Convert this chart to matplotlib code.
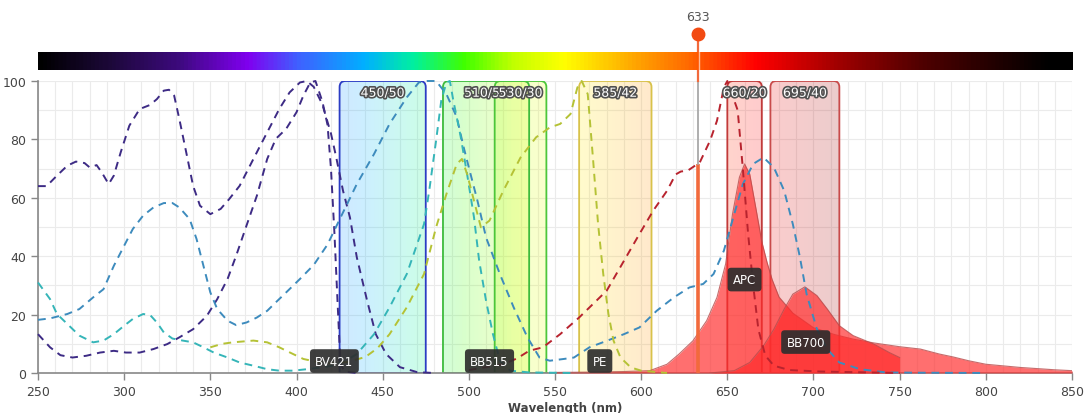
import numpy as np
import matplotlib.pyplot as plt
from matplotlib.colors import LinearSegmentedColormap, Normalize
from matplotlib.patches import FancyBboxPatch
import matplotlib.patheffects as pe

# ========================================= #
# spectra               #
# ========================================= #

# excitation curves (dashed)
bv_a_wl = [250, 255, 261, 267, 272, 277, 280, 284, 287, 291,
           294, 298, 303, 309, 315, 319, 323, 326, 329, 332,
           336, 340, 344, 350, 356, 361, 367, 373, 379, 385,
           390, 396, 402, 406, 410, 415, 420, 423, 427, 431,
           435, 441, 446, 452, 460, 470, 480]
bv_a = [64, 64, 67.6, 71, 72.4, 71.9, 70.4, 71.2, 68.7, 64.7,
        67.6, 75.6, 84.7, 90.4, 91.8, 93.8, 96.7, 97, 95, 87,
        75.6, 64.1, 57.3, 54.4, 56.2, 59.6, 64.1, 71, 77.9, 84.7,
        90.4, 96.1, 99.5, 100, 98, 92, 82, 74, 62.4, 53.3,
        39.6, 24.7, 13.3, 6.5, 2, 0.3, 0]

bv_b_wl = [250, 257, 263, 270, 278, 286, 294, 301, 309, 317,
           325, 332, 340, 348, 354, 360, 365, 371, 377, 383,
           388, 394, 400, 404, 408, 411, 415, 418, 420, 422,
           424, 425.5, 428, 435]
bv_b = [13.3, 8.8, 6.1, 5.3, 5.9, 7, 7.6, 7, 7, 8.2,
        9.9, 12.2, 15, 19.6, 25.3, 32.2, 40.2, 50.5, 60.7, 73.3,
        80.2, 83.6, 89.3, 95, 99.5, 100, 93, 85, 70, 48,
        22, 3, 0.5, 0]

bb700_ex_wl = [250, 257, 267, 274, 282, 288, 294, 300, 305, 311,
               317, 323, 328, 332, 338, 342, 346, 350, 354, 360,
               365, 371, 377, 383, 388, 394, 402, 410, 418, 427,
               435, 445, 454, 464, 471, 476, 481, 487, 493, 497,
               501, 505, 510, 518, 526, 534, 541, 547, 555, 561,
               570, 580, 590, 599, 609, 619, 628, 636, 642, 648,
               654, 659, 665, 671, 677, 683, 688, 692, 696, 702,
               708, 715, 727, 742, 760, 800]
bb700_ex = [18.2, 18.7, 20.2, 21.9, 25.9, 28.7, 36.7, 43.6, 49.3, 53.9,
            56.7, 58.2, 58.2, 56.7, 52.7, 45.9, 36.7, 27.6, 21.9, 17.9,
            16.4, 17.3, 19, 21.3, 24.2, 27.6, 32.2, 37, 44, 55,
            64.7, 75, 85.3, 94.4, 99.5, 100, 100, 95.5, 87.6, 77.3,
            68.1, 59, 46.4, 33.9, 22.5, 12.2, 5.3, 4.2, 4.8, 5.3,
            8.8, 11, 13.3, 15.6, 21.3, 25.9, 29.3, 30.5, 33.9, 41.9,
            54.4, 64.7, 71.6, 73.8, 70.4, 62.4, 51, 40, 27, 15,
            8.2, 3.6, 1.3, 0.2, 0.1, 0]

bb515_ex_wl = [250, 257, 261, 267, 274, 282, 288, 294, 300, 305,
               311, 315, 319, 323, 328, 334, 340, 346, 352, 360,
               367, 375, 383, 390, 398, 406, 414, 421, 428, 435,
               445, 454, 464, 474, 477, 481, 484, 487, 489, 491,
               495, 499, 503, 506, 510, 514, 518, 524, 535, 560]
bb515_ex = [31, 25.3, 20.2, 16.8, 12.8, 10.5, 11.1, 13.3, 16.2, 18.5,
            20.2, 19.9, 17.3, 13.9, 11.8, 11.1, 10.5, 8.8, 7, 5.3,
            3.6, 2.5, 1.3, 0.8, 0.8, 1.3, 1.9, 2.5, 4, 6.5,
            13.3, 22.5, 33.9, 51, 62.4, 79.6, 93.3, 99.5, 100, 93.3,
            81.8, 68.1, 53.3, 38.4, 24.7, 13.3, 4.2, 0.8, 0.2, 0]

pe_ex_wl = [350, 357, 363, 375, 383, 390, 398, 404, 412, 420,
            430, 440, 447, 454, 464, 474, 481, 487, 493, 496,
            499, 504, 507, 512, 520, 530, 539, 547, 553, 559,
            563, 565.5, 569, 572, 575, 578, 581, 584, 588, 594,
            600, 615]
pe_ex = [8.8, 10, 10.5, 11.1, 10.5, 8.8, 6.5, 4.8, 3.8, 3.3,
         3.8, 5.5, 8.5, 13.3, 22.5, 33.9, 49.9, 61.3, 71.6, 73.3,
         68.1, 56.7, 49.9, 52.2, 62.4, 73.8, 80.7, 84.1, 85.3, 88.7,
         97.8, 100, 95.5, 73.8, 51, 33.9, 20.2, 11, 5.3, 1.9,
         0.8, 0]

apc_ex_wl = [500, 510, 520, 528, 535, 543, 553, 564, 576, 580,
             590, 599, 607, 615, 620, 623, 627, 634, 640, 644,
             648, 650, 656, 659, 662, 665, 668, 672, 677, 686,
             704, 750]
apc_ex = [1, 2, 3, 5, 7.6, 8.8, 13.3, 19, 25.9, 28.2,
          38.4, 47.6, 55.6, 62.4, 68, 69, 69.3, 72.1, 79.6, 86.4,
          97.8, 100, 90, 70, 48, 30, 15, 6, 2.5, 1,
          0.5, 0]

# emission curves (filled)
apc_em_wl = [550, 570, 590, 605, 615, 622, 630, 638, 644, 649,
             653, 657, 660, 663, 667, 670, 673, 676, 680, 688,
             700, 712, 723, 735, 750, 762, 773, 781, 790, 800,
             820, 840, 850]
apc_em = [0.2, 0.3, 0.5, 0.8, 3, 6.5, 11, 17.9, 25.9, 37.3,
          54.4, 67, 71.6, 68.1, 55, 45, 38, 32, 26, 20.5,
          15.5, 13.2, 11.6, 10.3, 9, 8.2, 6.5, 5.5, 4.2, 3,
          1.9, 1.1, 0.8]

bb700_em_wl = [640, 654, 663, 671, 677, 683, 688, 695, 702, 708,
               715, 723, 735, 744, 750]
bb700_em = [0, 0.8, 3.6, 9.3, 15, 21.9, 27, 29.5, 26.5, 21.9,
            16.2, 12.8, 9.9, 7, 5.3]

# filters
filt_name = ['450/50', '510/50', '530/30', '585/42', '660/20', '695/40']
filt_mid  = [450, 510, 530, 585, 660, 695]
filt_bw   = [50, 50, 30, 42, 20, 40]

# dye tags and laser
tag_name = ['BV421', 'BB515', 'PE', 'APC', 'BB700']
tag_wl   = [422, 512, 576, 660, 695.5]
tag_val  = [4.1, 4.1, 4.1, 32, 10.6]
laser    = 633

# ========================================= #
# styling                                   #
# ========================================= #

spec_nm  = [250, 290, 330, 371, 400, 439, 467, 497, 525, 555,
            599, 627, 667, 715, 763, 837, 850]
spec_col = ['#000000', '#1c0838', '#3c0a7c', '#8000f0', '#4060ff',
            '#00b0ff', '#00f0a0', '#40ff00', '#c0ff00', '#ffff00',
            '#ffa000', '#ff6a00', '#ff0000', '#a00000', '#500000',
            '#000000', '#000000']
cmap = LinearSegmentedColormap.from_list(
    'spec', [((n - 250) / 600.0, c) for n, c in zip(spec_nm, spec_col)])
norm = Normalize(250, 850)

filt_ec = ['#2b3cc4', '#3dbb3d', '#4cc63a', '#d8c24a', '#c23a3a', '#c84a4a']

W, H = 1085, 414
fig = plt.figure(figsize=(W / 100, H / 100), dpi=100)
ax = fig.add_axes([38 / W, 40 / H, 1034 / W, 292 / H])
bar = fig.add_axes([38 / W, (H - 71) / H, 1035 / W, 18 / H])

# spectrum strip
bar.imshow(np.linspace(250, 850, 800)[None, :], cmap=cmap, norm=norm,
           aspect='auto', extent=[250, 850, 0, 1])
bar.axvline(laser, color='#ffb894', lw=1)
bar.set_xlim(250, 850)
bar.set_axis_off()

# filter boxes
for name, mid, bw, ec in zip(filt_name, filt_mid, filt_bw, filt_ec):
    lo, hi = mid - bw / 2, mid + bw / 2
    box = FancyBboxPatch((lo, -6), bw, 106,
                         boxstyle='round,pad=0,rounding_size=3.5',
                         mutation_aspect=0.59, fc='none', ec=ec, lw=1.3, zorder=2)
    ax.add_patch(box)
    im = ax.imshow(np.linspace(lo, hi, 64)[None, :], cmap=cmap, norm=norm,
                   extent=[lo, hi, -6, 100], aspect='auto', alpha=0.2,
                   interpolation='bilinear', zorder=1)
    im.set_clip_path(box)
    ax.plot([lo, hi], [0, 0], color=ec, lw=1.8, zorder=2)
    ax.text(mid, 95.8, name, ha='center', va='center', fontsize=9, color='white',
            path_effects=[pe.withStroke(linewidth=2.4, foreground='#505050')],
            zorder=8)

# emission fills
for wl, em in [(apc_em_wl, apc_em), (bb700_em_wl, bb700_em)]:
    ax.fill_between(wl, em, color='#ff2b2b', alpha=0.68, lw=0, zorder=3)
    ax.plot(wl, em, color='#b84a4a', lw=0.8, alpha=0.8, zorder=3)

# excitation curves
dash = (0, (4, 3))
ax.plot(bv_a_wl, bv_a, color='#3d2b85', lw=1.4, ls=dash, zorder=4, clip_on=False)
ax.plot(bv_b_wl, bv_b, color='#3d2b85', lw=1.4, ls=dash, zorder=4, clip_on=False)
ax.plot(bb700_ex_wl, bb700_ex, color='#3d8bbd', lw=1.4, ls=dash, zorder=4, clip_on=False)
ax.plot(bb515_ex_wl, bb515_ex, color='#35b5b8', lw=1.4, ls=dash, zorder=4, clip_on=False)
ax.plot(pe_ex_wl, pe_ex, color='#b5c235', lw=1.4, ls=dash, zorder=4, clip_on=False)
ax.plot(apc_ex_wl, apc_ex, color='#b8232e', lw=1.4, ls=dash, zorder=4, clip_on=False)

# laser line
hit = np.interp(laser, apc_ex_wl, apc_ex)
ax.plot([laser, laser], [0, hit], color='#f26a3c', lw=2.6, zorder=5,
        solid_capstyle='butt')
ax.plot([laser, laser], [hit, 100], color='#a8a8a8', lw=1.3, zorder=5)
ax.plot([laser, laser], [100, 116], color='#f26a3c', lw=1.6, clip_on=False, zorder=5)
ax.plot(laser, 116.1, 'o', ms=9, color='#f24a12', clip_on=False, zorder=10)
ax.text(laser, 122, str(laser), ha='center', va='center', fontsize=9,
        color='#555555', clip_on=False)

# dye tags
for name, x, y in zip(tag_name, tag_wl, tag_val):
    ax.text(x, y, name, ha='center', va='center', fontsize=8.5, color='white',
            bbox=dict(boxstyle='round,pad=0.45,rounding_size=0.3',
                      fc='#2e2e2e', ec='none', alpha=0.92), zorder=9)

# axes
ax.set_xlim(250, 850)
ax.set_ylim(0, 100)
ax.set_xticks(np.arange(250, 851, 50))
ax.set_xticks(np.arange(250, 851, 10), minor=True)
ax.set_yticks(np.arange(0, 101, 20))
ax.set_yticks(np.arange(0, 101, 10), minor=True)
ax.grid(which='both', color='#ebebeb', lw=0.8)
ax.set_axisbelow(True)
ax.tick_params(which='major', colors='#888888', labelcolor='#444444',
               labelsize=9, length=5, width=1)
ax.tick_params(which='minor', length=0)
for s in ['top', 'right']:
    ax.spines[s].set_visible(False)
for s in ['left', 'bottom']:
    ax.spines[s].set_color('#888888')
    ax.spines[s].set_linewidth(1.2)

fig.text(565 / W, 1 - 409 / H, 'Wavelength (nm)', ha='center', va='center',
         fontsize=8.5, fontweight='semibold', color='#444444')

fig.savefig('out.png', dpi=100)
